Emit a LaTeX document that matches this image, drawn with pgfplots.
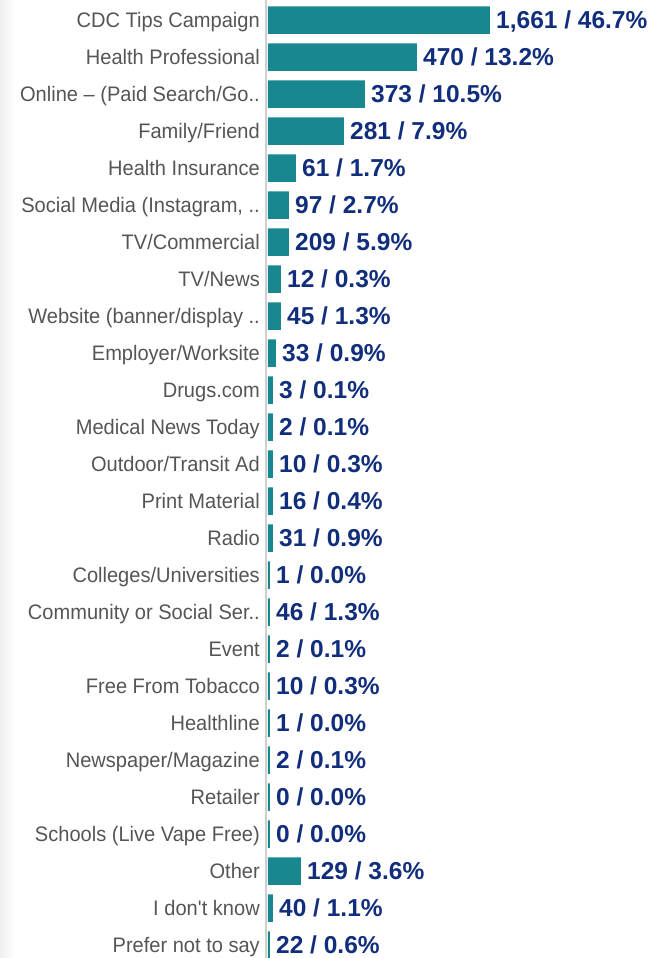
\documentclass[border=0pt]{standalone}
\usepackage{fontspec}
\setmainfont{Liberation Sans}
\newfontfamily\catfont[FakeStretch=0.955]{Liberation Sans}
\usepackage{pgfplots}
\usepackage{pgfplotstable}
\pgfplotsset{compat=1.18}

\definecolor{barteal}{HTML}{18878F}
\definecolor{valblue}{HTML}{112E7C}
\definecolor{catgray}{HTML}{555555}
\definecolor{axgray}{HTML}{CFCFCF}

% len = drawn bar length (bp), lab = printed label
\pgfplotstableread[col sep=semicolon, row sep=\\]{
idx;len;name;lab\\
0;222;CDC Tips Campaign;1,661 / 46.7\\
1;149;Health Professional;470 / 13.2\\
2;97;Online – (Paid Search/Go..;373 / 10.5\\
3;76;Family/Friend;281 / 7.9\\
4;28;Health Insurance;61 / 1.7\\
5;21;Social Media (Instagram, ..;97 / 2.7\\
6;21;TV/Commercial;209 / 5.9\\
7;13;TV/News;12 / 0.3\\
8;13;Website (banner/display ..;45 / 1.3\\
9;8;Employer/Worksite;33 / 0.9\\
10;5;Drugs.com;3 / 0.1\\
11;5;Medical News Today;2 / 0.1\\
12;5;Outdoor/Transit Ad;10 / 0.3\\
13;5;Print Material;16 / 0.4\\
14;5;Radio;31 / 0.9\\
15;2;Colleges/Universities;1 / 0.0\\
16;2;Community or Social Ser..;46 / 1.3\\
17;2;Event;2 / 0.1\\
18;2;Free From Tobacco;10 / 0.3\\
19;2;Healthline;1 / 0.0\\
20;2;Newspaper/Magazine;2 / 0.1\\
21;2;Retailer;0 / 0.0\\
22;2;Schools (Live Vape Free);0 / 0.0\\
23;33;Other;129 / 3.6\\
24;5;I don\textquotesingle{}t know;40 / 1.1\\
25;2;Prefer not to say;22 / 0.6\\
}\data

\begin{document}
\begin{tikzpicture}
\shade[left color=black!6, right color=white] (-266.5bp,0) rectangle (-252bp,958bp);
\begin{axis}[
  scale only axis,
  x=1bp, y=37bp,
  xmin=-1.5, xmax=387,
  ymin=-0.5405, ymax=25.35,
  y dir=reverse,
  xbar, bar width=27.5bp, bar shift=0pt,
  axis x line=none,
  axis y line*=left,
  y axis line style={draw=axgray, line width=2bp},
  ytick={0,...,25},
  yticklabels from table={\data}{name},
  major tick length=0pt,
  yticklabel style={font=\catfont\fontsize{21bp}{24bp}\selectfont, text=catgray,
    anchor=base east, inner sep=0pt, xshift=-6.5bp, yshift=-7.5bp},
  point meta=explicit symbolic,
  nodes near coords={\pgfplotspointmeta\%},
  nodes near coords style={font=\bfseries\fontsize{24.5bp}{28bp}\selectfont,
    text=valblue, anchor=base west, inner sep=0pt, xshift=6bp, yshift=-8.8bp},
  clip=false,
]
\addplot[fill=barteal, draw=none] table[x=len, y=idx, meta=lab]{\data};
\end{axis}
\pgfresetboundingbox
\path[use as bounding box] (-266.5bp,0) rectangle (388.5bp,958bp);
\end{tikzpicture}
\end{document}
